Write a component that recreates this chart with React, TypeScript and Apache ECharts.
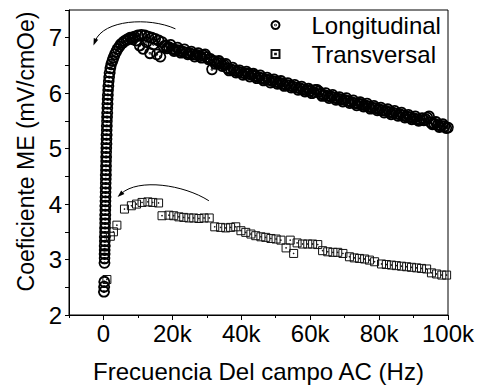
import React, { useEffect, useRef } from 'react';
import * as echarts from 'echarts';

const FONT = '"Liberation Sans", Arial, Helvetica, sans-serif';

// Longitudinal (Hz, mV/cmOe) - main run
const longFreq = [
  150, 200, 250, 300, 320, 340, 360, 380, 400, 420, 440, 460, 480, 500, 520, 540, 560, 580, 600, 620,
  640, 660, 680, 700, 720, 740, 760, 780, 800, 830, 860, 890, 920, 950, 980, 1010, 1050, 1090, 1130, 1170,
  1220, 1280, 1350, 1430, 1540, 1650, 1800, 2000, 2250, 2600, 2900, 3300, 3700, 4100, 4600, 5000, 5600, 6100,
  6700, 7200, 7800, 8400, 9000, 9500, 10000, 10500, 11000, 11500, 12000, 12500, 13000, 13500, 14000, 14500,
  15000, 15500, 16000, 16500, 17000, 17500, 18000, 19000, 20000, 21000, 22000, 23000, 24000, 25000, 26000,
  27000, 28000, 29000, 30000, 31000, 31500, 32000, 33000, 34000, 35000, 36000, 37000, 38000, 39000, 40000,
  41000, 42000, 43000, 44000, 45000, 46000, 47000, 48000, 49000, 50000, 51000, 52000, 53000, 54000, 55000,
  56000, 57000, 58000, 59000, 60000, 61000, 62000, 63000, 64000, 65000, 66000, 67000, 68000, 69000, 70000,
  71000, 72000, 73000, 74000, 75000, 76000, 77000, 78000, 79000, 80000, 81000, 82000, 83000, 84000, 85000,
  86000, 87000, 88000, 89000, 90000, 91000, 92000, 93000, 94000, 95000, 96000, 97000, 98000, 99000, 100000,
];
const longCoef = [
  2.42, 2.51, 2.6, 2.94, 3.02, 3.1, 3.17, 3.25, 3.33, 3.41, 3.49, 3.57, 3.65, 3.73, 3.81, 3.89, 3.97, 4.05, 4.13, 4.21,
  4.29, 4.37, 4.45, 4.53, 4.61, 4.69, 4.77, 4.85, 4.93, 5.01, 5.09, 5.17, 5.25, 5.33, 5.41, 5.49, 5.57, 5.65, 5.73, 5.81,
  5.89, 5.97, 6.05, 6.13, 6.21, 6.29, 6.37, 6.45, 6.52, 6.58, 6.64, 6.7, 6.75, 6.8, 6.84, 6.88, 6.91, 6.94,
  6.96, 6.98, 7.0, 7.0, 7.02, 6.95, 7.04, 6.86, 7.05, 6.8, 7.04, 6.92, 7.02, 6.72, 7.0, 6.88,
  6.98, 6.7, 6.95, 6.66, 6.92, 6.84, 6.86, 6.83, 6.8, 6.78, 6.77, 6.75, 6.73, 6.72, 6.7,
  6.69, 6.67, 6.68, 6.65, 6.62, 6.43, 6.58, 6.55, 6.54, 6.51, 6.45, 6.43, 6.41, 6.39, 6.37,
  6.36, 6.35, 6.33, 6.31, 6.29, 6.27, 6.25, 6.24, 6.22, 6.21, 6.19, 6.17, 6.15, 6.14, 6.12,
  6.1, 6.09, 6.07, 6.05, 6.04, 6.02, 6.06, 5.99, 5.97, 5.95, 5.94, 5.92, 5.9, 5.89, 5.88,
  5.86, 5.84, 5.82, 5.81, 5.8, 5.78, 5.76, 5.74, 5.73, 5.71, 5.69, 5.68, 5.66, 5.65, 5.63,
  5.62, 5.6, 5.58, 5.57, 5.55, 5.53, 5.52, 5.51, 5.56, 5.47, 5.45, 5.43, 5.41, 5.4, 5.38,
];

// Longitudinal (Hz, mV/cmOe) - interleaved readings
const longFreqB = [
  8500, 18500, 19500, 20500, 21500, 22500, 23500, 24500, 25500, 26500, 27500, 28500, 29500, 30500, 32500,
  33500, 34500, 35500, 36500, 37500, 38500, 39500, 40500, 41500, 42500, 43500, 44500, 45500, 46500, 47500,
  48500, 49500, 50500, 51500, 52500, 53500, 54500, 55500, 56500, 57500, 58500, 59500, 60500, 61500, 62500,
  63500, 64500, 65500, 66500, 67500, 68500, 69500, 70500, 71500, 72500, 73500, 74500, 75500, 76500, 77500,
  78500, 79500, 80500, 81500, 82500, 83500, 84500, 85500, 86500, 87500, 88500, 89500, 90500, 91500, 92500,
  93500, 94500, 95500, 96500, 97500, 98500, 99500,
];
const longCoefB = [
  6.97, 6.81, 6.87, 6.76, 6.82, 6.73, 6.79, 6.7, 6.75, 6.66, 6.72, 6.64, 6.7, 6.61, 6.53,
  6.58, 6.49, 6.53, 6.41, 6.46, 6.37, 6.41, 6.33, 6.39, 6.3, 6.35, 6.27, 6.32, 6.23, 6.28,
  6.19, 6.25, 6.17, 6.22, 6.13, 6.18, 6.1, 6.15, 6.06, 6.12, 6.03, 6.08, 6.0, 6.06, 6.03,
  5.95, 6.0, 5.91, 5.97, 5.88, 5.93, 5.85, 5.91, 5.82, 5.87, 5.78, 5.84, 5.76, 5.81, 5.72,
  5.77, 5.69, 5.74, 5.65, 5.71, 5.62, 5.68, 5.59, 5.65, 5.56, 5.61, 5.53, 5.58, 5.5, 5.55,
  5.53, 5.58, 5.44, 5.48, 5.39, 5.44, 5.37,
];

// Transversal (Hz, mV/cmOe)
const transFreq = [
  1000, 2000, 2900, 3900, 6100, 8100, 9600, 11200, 12900, 14300, 16000, 17000, 19000, 20400, 21900, 23300,
  24800, 26200, 27700, 29200, 30700, 32300, 34000, 35500, 36900, 38400, 39900, 41300, 42800, 44200, 45700,
  47100, 48600, 50100, 51500, 53000, 54200, 55200, 56200, 57800, 59300, 60700, 62200, 63600, 65100, 66600,
  68000, 69500, 71400, 72800, 74300, 75800, 77200, 78700, 80700, 82100, 83600, 85000, 86500, 88000, 89400,
  90900, 92300, 93800, 95200, 96700, 98200, 99600,
];
const transCoef = [
  2.64, 3.42, 3.5, 3.62, 3.91, 3.97, 4.0, 4.03, 4.04, 4.03, 4.02, 3.79, 3.8, 3.79, 3.77, 3.76,
  3.75, 3.75, 3.74, 3.75, 3.75, 3.59, 3.58, 3.57, 3.58, 3.59, 3.52, 3.49, 3.46, 3.43, 3.41,
  3.4, 3.38, 3.37, 3.35, 3.21, 3.35, 3.11, 3.3, 3.28, 3.28, 3.28, 3.27, 3.16, 3.14, 3.13,
  3.13, 3.11, 3.05, 3.03, 3.02, 3.01, 2.99, 2.96, 2.92, 2.91, 2.9, 2.89, 2.88, 2.87, 2.86,
  2.85, 2.84, 2.83, 2.76, 2.74, 2.72, 2.72,
];

const xTickValues = [0, 20000, 40000, 60000, 80000, 100000];
const yTickValues = [2, 3, 4, 5, 6, 7];

// Curved annotation arrows, in data units: start, control 1, control 2, tip
const arrowLong = [[20900, 7.16], [13100, 7.38], [0, 7.32], [-2900, 6.86]];
const arrowTrans = [[30600, 4.06], [23300, 4.35], [10200, 4.47], [4100, 4.13]];

const CIRCLE = 'path://M10,0A10,10,0,1,1,9.99,0ZM10,9.1A0.9,0.9,0,1,1,9.99,9.1Z';
const SQUARE = 'path://M0,0H20V20H0ZM9.1,9.1H10.9V10.9H9.1Z';

const FS = 24;

function fmtK(v: number) {
  return v === 0 ? '0' : v / 1000 + 'k';
}

export default function App() {
  const ref = useRef<HTMLDivElement>(null);
  useEffect(() => {
    document.body.style.margin = '0';
    const chart = echarts.init(ref.current!, null, { renderer: 'svg' });
    const axisColor = '#000';
    const longData = longFreq
      .map((f, i) => [f, longCoef[i]])
      .concat(longFreqB.map((f, i) => [f, longCoefB[i]]));
    chart.setOption({
      animation: false,
      backgroundColor: '#fff',
      textStyle: { fontFamily: FONT },
      grid: {
        left: 69, right: 29, top: 10, bottom: 72,
        outerBoundsMode: 'none',
        containLabel: false,
        show: true, borderColor: '#000', borderWidth: 1, backgroundColor: 'transparent',
      },
      legend: {
        orient: 'vertical',
        left: 269,
        top: 13,
        padding: 0,
        itemWidth: 8,
        itemHeight: 8,
        itemGap: 5,
        textStyle: { fontSize: FS, color: '#000', lineHeight: 24, fontFamily: FONT, padding: [0, 0, 0, 27] },
        data: [
          { name: 'Longitudinal', icon: CIRCLE },
          { name: 'Transversal', icon: SQUARE },
        ],
      },
      xAxis: [
        {
          type: 'value', min: -10000, max: 100000, interval: 10000, position: 'bottom',
          name: 'Frecuencia Del campo AC (Hz)', nameLocation: 'middle', nameGap: 44,
          nameTextStyle: { fontSize: FS, color: '#000', fontFamily: FONT },
          axisLine: { show: true, onZero: false, lineStyle: { color: axisColor, width: 1 } },
          axisTick: { show: true, inside: false, length: 3, lineStyle: { color: axisColor } },
          axisLabel: {
            customValues: xTickValues, formatter: fmtK, fontSize: FS, color: '#000', margin: 6,
            fontFamily: FONT,
          },
          splitLine: { show: false },
        },
        {
          type: 'value', min: -10000, max: 100000, position: 'bottom',
          axisLine: { show: false },
          axisTick: { show: true, customValues: xTickValues, length: 5, lineStyle: { color: axisColor } },
          axisLabel: { show: false },
          splitLine: { show: false },
        },
      ],
      yAxis: {
        type: 'value', min: 2, max: 7.5, interval: 0.5,
        name: 'Coeficiente ME (mV/cmOe)', nameLocation: 'middle', nameGap: 31,
        nameTextStyle: { fontSize: 23, color: '#000', fontFamily: FONT, padding: [0, 0, 0, 22] },
        axisLine: { show: true, onZero: false, lineStyle: { color: axisColor, width: 1 } },
        axisTick: { show: true, inside: false, length: 4, lineStyle: { color: axisColor } },
        axisLabel: { customValues: yTickValues, fontSize: FS, color: '#000', margin: 7, fontFamily: FONT },
        splitLine: { show: false },
      },
      series: [
        {
          type: 'scatter', name: 'Longitudinal',
          data: longData,
          symbol: CIRCLE, symbolSize: 10,
          itemStyle: { color: 'none', borderColor: '#000', borderWidth: 1.8, opacity: 1 },
          emphasis: { disabled: true },
        },
        {
          type: 'scatter', name: 'Transversal',
          data: transFreq.map((f, i) => [f, transCoef[i]]),
          symbol: SQUARE, symbolSize: 8,
          itemStyle: { color: 'none', borderColor: '#111', borderWidth: 1, opacity: 1 },
          emphasis: { disabled: true },
        },
      ],
    });

    const makeArrow = (pts: number[][]) => {
      const p = pts.map((d) => chart.convertToPixel({ gridIndex: 0 }, d) as number[]);
      const [p0, c1, c2, p3] = p;
      const dx = p3[0] - c2[0];
      const dy = p3[1] - c2[1];
      const len = Math.hypot(dx, dy) || 1;
      const ux = dx / len, uy = dy / len;
      const L = 7, W = 2.4;
      const bx = p3[0] - ux * L, by = p3[1] - uy * L;
      return [
        {
          type: 'bezierCurve',
          shape: { x1: p0[0], y1: p0[1], cpx1: c1[0], cpy1: c1[1], cpx2: c2[0], cpy2: c2[1], x2: bx + ux * 2, y2: by + uy * 2 },
          style: { stroke: '#000', lineWidth: 1, fill: null },
          silent: true,
        },
        {
          type: 'polygon',
          shape: { points: [[p3[0], p3[1]], [bx - uy * W, by + ux * W], [bx + uy * W, by - ux * W]] },
          style: { fill: '#000' },
          silent: true,
        },
      ];
    };
    chart.setOption({ graphic: [...makeArrow(arrowLong), ...makeArrow(arrowTrans)] });

    return () => chart.dispose();
  }, []);
  return <div ref={ref} style={{ width: 477, height: 387 }} />;
}
